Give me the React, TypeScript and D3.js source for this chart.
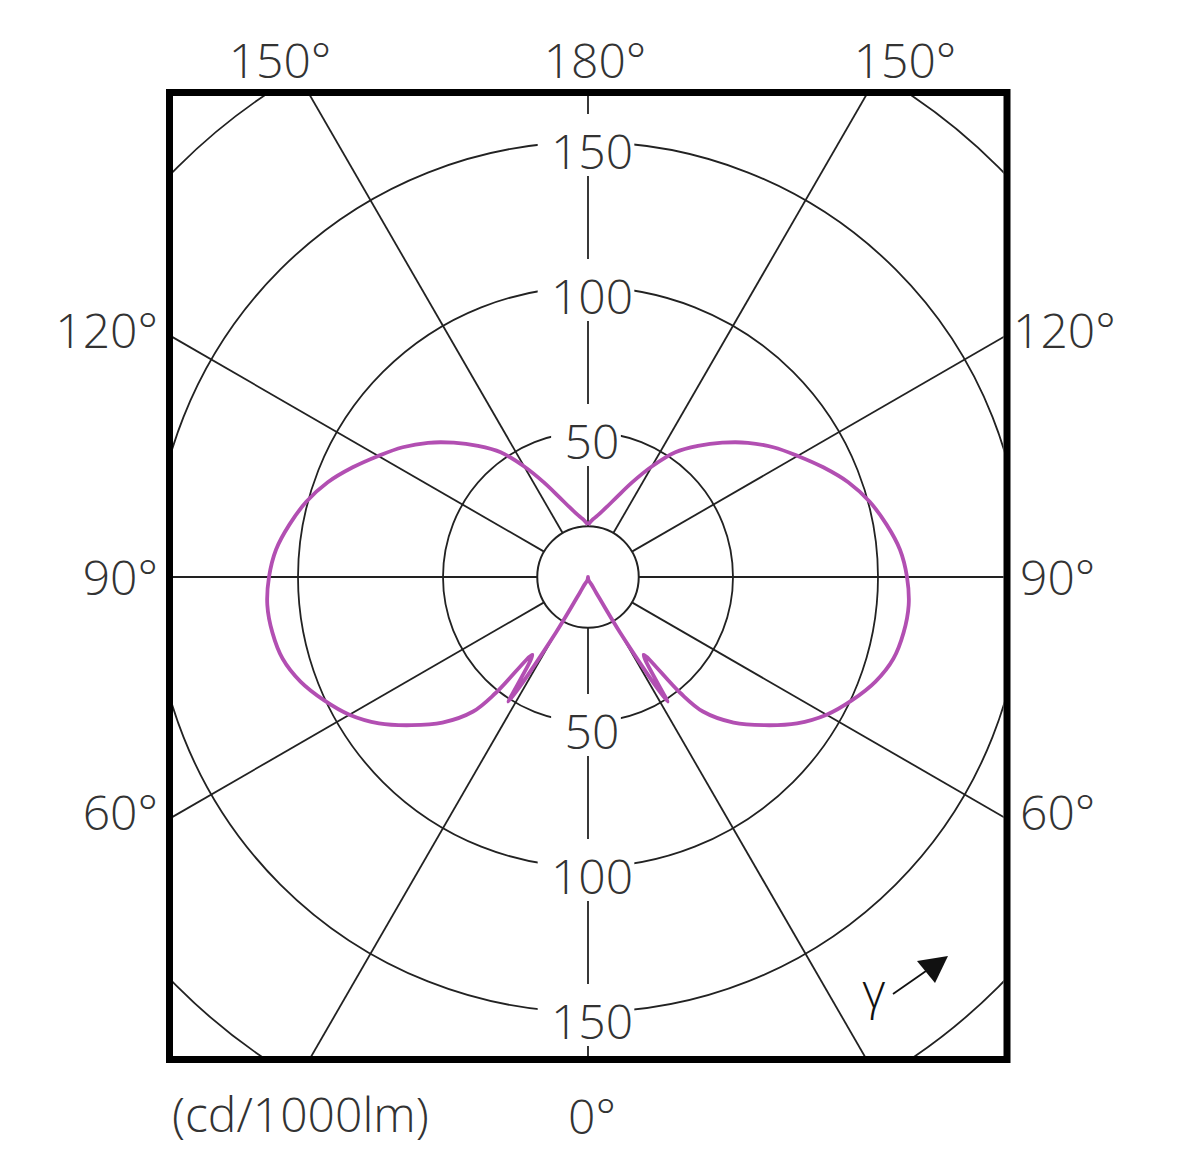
import React from "react";
import * as d3 from "d3";

// Luminous intensity (cd/1000lm) vs gamma angle, symmetric C0/C180 plane
const gammaAngles = [0, 5, 10, 15, 20, 25, 27.5, 30, 32.5, 35.5, 38.5, 40.5, 45, 50, 55, 60, 65, 70, 75, 80, 85, 90, 95, 100, 105, 110, 115, 120, 125, 130, 135, 140, 145, 150, 155, 160, 165, 170, 175, 180];
const intensity = [0, 0.5, 1, 1.5, 2, 3, 6, 22, 51, 33, 51, 61, 71, 79.5, 88, 95, 100.5, 105.5, 109, 110.5, 111, 110, 108, 104.5, 100.5, 95.5, 89.5, 83.5, 78, 72, 65.5, 59, 52.5, 44, 36, 29.5, 25, 22, 20, 18];

const ringValues = [50, 100, 150, 200];
const ringLabelValues = [50, 100, 150];
const spokeAngles = [0, 30, 60, 90, 120, 150, 180, 210, 240, 270, 300, 330];
const topAngleLabels = ["150°", "180°", "150°"];
const sideAngleLabels = ["120°", "90°", "60°"];
const bottomAngleLabel = "0°";
const unitLabel = "(cd/1000lm)";
const innerCircleValue = 17.5;

const W = 1200;
const H = 1161;
const cx = 588;
const cy = 577;
const box = { x: 169.5, y: 92.5, w: 837.5, h: 967 };
const FONT = "'Open Sans', 'Noto Sans', sans-serif";
const TEXT = "#333";
const GRID = "#222";

export default function App() {
  const r = d3.scaleLinear().domain([0, 150]).range([0, 435]);
  const rad = (d: number) => (d * Math.PI) / 180;

  const right = gammaAngles
    .map((g, i) => ({ a: Math.PI - rad(g), rr: r(intensity[i]) }))
    .reverse();
  const left = gammaAngles.map((g, i) => ({ a: Math.PI + rad(g), rr: r(intensity[i]) }));
  const pts = [...right, ...left.slice(1)];
  const line = d3
    .lineRadial<{ a: number; rr: number }>()
    .angle((d) => d.a)
    .radius((d) => d.rr)
    .curve(d3.curveCatmullRom.alpha(0.5));
  const curvePath = line(pts) || "";

  const r0 = r(innerCircleValue);
  const fs = 48;

  const labelW = (s: string) => s.length * fs * 0.56;

  return (
    <svg
      width={W}
      height={H}
      viewBox={`0 0 ${W} ${H}`}
      style={{ position: "absolute", left: 0, top: 0, background: "#fff" }}
    >
      <defs>
        <clipPath id="inside">
          <rect x={box.x + 3.5} y={box.y + 3.5} width={box.w - 7} height={box.h - 7} />
        </clipPath>
      </defs>
      <rect x={0} y={0} width={W} height={H} fill="#fff" />
      <g clipPath="url(#inside)">
        {ringValues.map((v) => (
          <circle key={v} cx={cx} cy={cy} r={r(v)} fill="none" stroke={GRID} strokeWidth={1.8} />
        ))}
        {spokeAngles.map((a) => (
          <line
            key={a}
            x1={cx + r0 * Math.sin(rad(a))}
            y1={cy + r0 * Math.cos(rad(a))}
            x2={cx + 900 * Math.sin(rad(a))}
            y2={cy + 900 * Math.cos(rad(a))}
            stroke={GRID}
            strokeWidth={1.8}
          />
        ))}
        <circle cx={cx} cy={cy} r={r0} fill="#fff" stroke={GRID} strokeWidth={2} />
        {ringLabelValues.flatMap((v) =>
          [-1, 1].map((s) => {
            const ly = cy + s * r(v) + 8;
            const s1 = String(v);
            const w = labelW(s1);
            return (
              <g key={`${v}-${s}`}>
                <rect x={cx - w / 2 - 10} y={ly - 36} width={w + 16} height={62} fill="#fff" />
                <text
                  x={cx + 4}
                  y={ly}
                  textAnchor="middle"
                  dominantBaseline="central"
                  fontFamily={FONT}
                  fontWeight={300}
                  fontSize={fs}
                  fill={TEXT}
                >
                  {s1}
                </text>
              </g>
            );
          })
        )}
      </g>
      <path d={curvePath} transform={`translate(${cx},${cy})`} fill="none" stroke="#b24fb2" strokeWidth={3.8} strokeLinejoin="round" />
      <rect x={box.x} y={box.y} width={box.w} height={box.h} fill="none" stroke="#000" strokeWidth={7} />

      {/* angle labels */}
      {topAngleLabels.map((t, i) => (
        <text
          key={`t${i}`}
          x={[280, 595, 905][i]}
          y={78}
          textAnchor="middle"
          fontFamily={FONT}
          fontWeight={300}
          fontSize={fs}
          fill={TEXT}
        >
          {t}
        </text>
      ))}
      {sideAngleLabels.map((t, i) => (
        <text
          key={`l${i}`}
          x={158}
          y={[348, 595, 830][i]}
          textAnchor="end"
          fontFamily={FONT}
          fontWeight={300}
          fontSize={fs}
          fill={TEXT}
        >
          {t}
        </text>
      ))}
      {sideAngleLabels.map((t, i) => (
        <text
          key={`r${i}`}
          x={[1013, 1020, 1020][i]}
          y={[348, 595, 830][i]}
          textAnchor="start"
          fontFamily={FONT}
          fontWeight={300}
          fontSize={fs}
          fill={TEXT}
        >
          {t}
        </text>
      ))}
      <text x={592} y={1134} textAnchor="middle" fontFamily={FONT} fontWeight={300} fontSize={fs} fill={TEXT}>
        {bottomAngleLabel}
      </text>
      <text x={172} y={1132} textAnchor="start" fontFamily={FONT} fontWeight={300} fontSize={fs} fill={TEXT}>
        {unitLabel}
      </text>

      {/* gamma direction indicator */}
      <text x={874} y={1008} textAnchor="middle" fontFamily={FONT} fontWeight={300} fontSize={fs} fill="#111">
        γ
      </text>
      <line x1={893} y1={994} x2={926} y2={971} stroke="#111" strokeWidth={1.8} />
      <polygon points="917,961 948,956 935,983" fill="#111" />
    </svg>
  );
}
